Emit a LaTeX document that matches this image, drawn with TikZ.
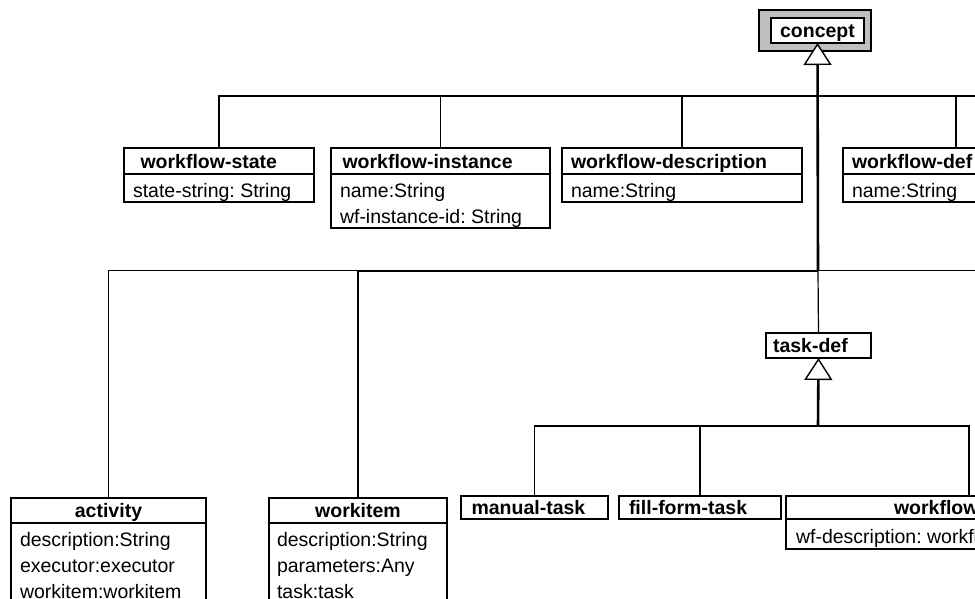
\documentclass[tikz,border=0pt]{standalone}
\usepackage{fontspec}
\setmainfont{Liberation Sans}
\usetikzlibrary{arrows.meta}
% struts for the class boxes: header line, first and last attribute line
\newcommand{\hstrut}{\rule[-4.5pt]{0pt}{23pt}}
\newcommand{\fstrut}{\rule{0pt}{23pt}}
\newcommand{\lstrut}{\rule[-5pt]{0pt}{5pt}}
\begin{document}
\begin{tikzpicture}[x=1pt,y=-1pt,
  every node/.style={font=\fontsize{19.5pt}{26pt}\selectfont\frenchspacing},
  cell/.style={draw, line width=1.3pt, anchor=north west, outer sep=0pt,
               inner ysep=0pt, align=flush left, fill=white},
  head/.style={cell, font=\fontsize{19.5pt}{26pt}\selectfont\frenchspacing\bfseries},
  attr/.style={cell, inner xsep=9pt},
  conn/.style={line width=1.2pt},
  busx/.style={line width=2pt},
  gen/.style={line width=2.6pt,
              -{Triangle[length=22pt, width=28pt, line width=1.4pt, fill=white]}},
]
\useasboundingbox (0,0) rectangle (975,599);
\clip (0,0) rectangle (975,599);

% root class
\node[cell, fill=gray!50, minimum width=112pt, minimum height=41pt] (conceptframe) at (759,10) {};
\node[head, inner xsep=0pt, text width=93pt, minimum height=25pt, align=center] (concept) at (771,18) {\hstrut concept};

% first level
\node[head, inner xsep=16.5pt, text width=157pt, minimum height=26pt] (wsh) at (124,148) {\hstrut workflow-state};
\node[attr, text width=172pt] (wsa) at (124,174) {\fstrut state-string: String\lstrut};

\node[head, inner xsep=11.5pt, text width=196pt, minimum height=26pt] (wih) at (331,148) {\hstrut workflow-instance};
\node[attr, text width=201pt] (wia) at (331,174) {\fstrut name:String\\wf-instance-id: String\lstrut};

\node[head, inner xsep=9pt, text width=222pt, minimum height=26pt] (wdh) at (562,148) {\hstrut workflow-description};
\node[attr, text width=222pt] (wda) at (562,174) {\fstrut name:String\lstrut};

\node[head, inner xsep=9pt, text width=208pt, minimum height=26pt] (wfdh) at (843,148) {\hstrut workflow-def};
\node[attr, text width=208pt] (wfda) at (843,174) {\fstrut name:String\lstrut};

% second level
\node[head, inner xsep=0pt, text width=195pt, minimum height=25pt, align=center] (acth) at (11,498) {\hstrut activity};
\node[attr, text width=177pt] (acta) at (11,523) {\fstrut description:String\\executor:executor\\workitem:workitem\lstrut};

\node[head, inner xsep=0pt, text width=178pt, minimum height=25pt, align=center] (wkh) at (269,498) {\hstrut workitem};
\node[attr, inner xsep=8pt, text width=162pt] (wka) at (269,523) {\fstrut description:String\\parameters:Any\\task:task\lstrut};

\node[head, inner xsep=7pt, text width=91pt, minimum height=25pt] (tdh) at (766,333) {\hstrut task-def};

% task kinds
\node[head, inner xsep=10.5pt, text width=126pt, minimum height=23pt] (mth) at (461,496) {\hstrut manual-task};
\node[head, inner xsep=10pt, text width=142pt, minimum height=23pt] (fft) at (619,496) {\hstrut fill-form-task};
\node[head, inner xsep=108pt, text width=150pt, minimum height=23pt] (wfh) at (786,496) {\hstrut workflow};
\node[attr, inner ysep=1pt, inner xsep=10pt, text width=346pt] (wfa) at (786,519) {\fstrut wf-description: workflow-description\lstrut};

% junctions on the trunks
\coordinate (j1) at (818,96);
\coordinate (j2) at (818,270.5);
\coordinate (j3) at (818,426);
\coordinate (e1) at (990,96);
\coordinate (e2) at (990,270.5);

% generalisation tree below concept
\draw[conn] (wsh.north) |- (j1);
\draw[conn] (wih.north) |- (j1);
\draw[conn] (wdh.north) |- (j1);
\draw[conn] (wfdh.north) |- (j1);
\draw[conn] (j1) -- (e1);
\draw[busx] (wih.north |- j1) -- (j1);

\draw[conn] (acth.north) |- (j2);
\draw[conn] (wkh.north) |- (j2);
\draw[busx] (wkh.north |- j2) -- (j2);
\draw[conn] (j2) -- (e2);
\draw[conn] (tdh.north) -- (j2);
\draw[gen] (j2) -- (concept.south);

% generalisation tree below task-def
\draw[conn] (mth.north) |- (j3);
\draw[conn] (fft.north) |- (j3);
\draw[conn] (wfh.north) |- (j3);
\draw[gen] (j3) -- (tdh.south);
\end{tikzpicture}
\end{document}
